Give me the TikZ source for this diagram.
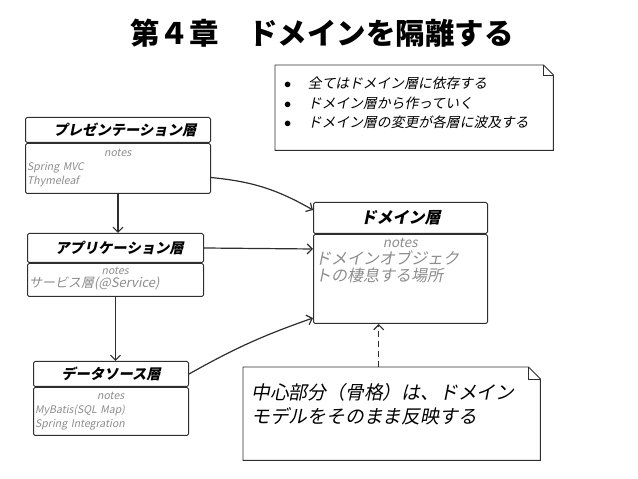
\documentclass[tikz,border=0pt]{standalone}
\usepackage{fontspec}
\setmainfont{Noto Sans CJK JP}
\newfontfamily\handfont{Noto Sans CJK JP}[FakeSlant=0.2]
\usepackage{tikz}
\usetikzlibrary{arrows.meta,calc}
\definecolor{ink}{HTML}{2E2E2E}
\definecolor{pencil}{HTML}{8C8C8C}

\begin{document}
\begin{tikzpicture}[x=1pt,y=1pt,
	head/.style={draw=ink,line width=1pt,rounded corners=1.5pt,anchor=north west,inner sep=0pt,font=\handfont\bfseries\fontsize{14.3}{16}\selectfont},
	body/.style={draw=ink,line width=1pt,rounded corners=1.5pt,anchor=north west,inner sep=0pt},
	notes/.style={anchor=north west,inner sep=2pt,align=left,text=pencil,font=\handfont\fontsize{10.5}{14}\selectfont},
	frame/.style={anchor=north west,inner sep=0pt},
	memo/.style={anchor=north west,inner sep=0pt,align=left,font=\handfont\fontsize{13.8}{19.5}\selectfont},
	fold/.style={draw=ink,line width=0.9pt},
	dep/.style={ink,line width=1.2pt,-{Straight Barb[length=5pt,width=10pt]}}]
	\useasboundingbox (0,0) rectangle (638,479);
	\node[font=\bfseries\fontsize{29.5}{32}\selectfont](TT) at (322,446) {第４章　ドメインを隔離する};
	% notes in the upper right
	\node[frame,minimum width=278,minimum height=85](RN) at (275,414) {};
	\draw[fold] (RN.north west) -- ([xshift=-10pt]RN.north east) -- ([yshift=-10pt]RN.north east) -- (RN.south east) -- (RN.south west) -- cycle;
	\draw[fold] ([xshift=-10pt]RN.north east) |- ([yshift=-10pt]RN.north east);
	\node[memo](RT) at ([shift={(9pt,-12pt)}]RN.north west) {$\bullet$\hspace{1.2em}全てはドメイン層に依存する\\$\bullet$\hspace{1.2em}ドメイン層から作っていく\\$\bullet$\hspace{1.2em}ドメイン層の変更が各層に波及する};
	% layers
	\node[head,minimum width=185,minimum height=25](PH) at (25,362) {\hspace{14pt}プレゼンテーション層};
	\node[body,minimum width=185,minimum height=50](PB) at (PH.south west) {};
	\node[notes,text width=181](PN) at ([yshift=-4pt]PB.north west) {\hfill notes\hfill\null\\Spring MVC\\Thymeleaf};
	\node[head,minimum width=176,minimum height=29](AH) at (27,246) {\hspace{8pt}アプリケーション層};
	\node[body,minimum width=176,minimum height=33](AB) at (AH.south west) {};
	\node[notes,text width=172,font=\handfont\fontsize{10.5}{12.5}\selectfont](AN) at ([yshift=-2pt]AB.north west) {\hfill notes\hfill\null\\{\fontsize{13}{13}\selectfont サービス層(@Service)}};
	\node[head,minimum width=155,minimum height=25](SH) at (33,118) {データソース層};
	\node[body,minimum width=155,minimum height=48](SB) at (SH.south west) {};
	\node[notes,text width=151](SN) at ([yshift=-3pt]SB.north west) {\hfill notes\hfill\null\\MyBatis(SQL Map)\\Spring Integration};
	\node[head,minimum width=174,minimum height=31,font=\handfont\bfseries\fontsize{16}{18}\selectfont](DH) at (313,277) {ドメイン層};
	\node[body,minimum width=174,minimum height=89](DB) at (DH.south west) {};
	\node[notes,text width=170,font=\handfont\fontsize{16}{17}\selectfont](DN) at ([yshift=-2pt]DB.north west) {\hfill {\fontsize{13.5}{17}\selectfont notes}\hfill\null\\ドメインオブジェク\\トの棲息する場所};
	% note below the domain layer
	\node[frame,minimum width=297,minimum height=93](CN) at (243,112) {};
	\draw[fold] (CN.north west) -- ([xshift=-12pt]CN.north east) -- ([yshift=-12pt]CN.north east) -- (CN.south east) -- (CN.south west) -- cycle;
	\draw[fold] ([xshift=-12pt]CN.north east) |- ([yshift=-12pt]CN.north east);
	\node[memo,font=\handfont\fontsize{18.8}{24}\selectfont](CT) at ([shift={(8pt,-16pt)}]CN.north west) {中心部分（骨格）は、ドメイン\\モデルをそのまま反映する};
	\draw[dep] (PB.south) -- (PB.south |- AH.north);
	\draw[dep] (AB.south) -- (AB.south |- SH.north);
	\draw[dep] ([yshift=-9pt]PB.east) to[bend left=12] ([yshift=-8pt]DH.north west);
	\draw[dep] (AH.east) -- ([yshift=-15pt]DB.north west);
	\draw[dep] (SH.east) to[bend left=5] ([yshift=6pt]DB.south west);
	\draw[dep,dash pattern=on 6pt off 4pt] ([xshift=-13pt]CN.north) -- ([xshift=-13pt]CN.north |- DB.south);
\end{tikzpicture}
\end{document}
